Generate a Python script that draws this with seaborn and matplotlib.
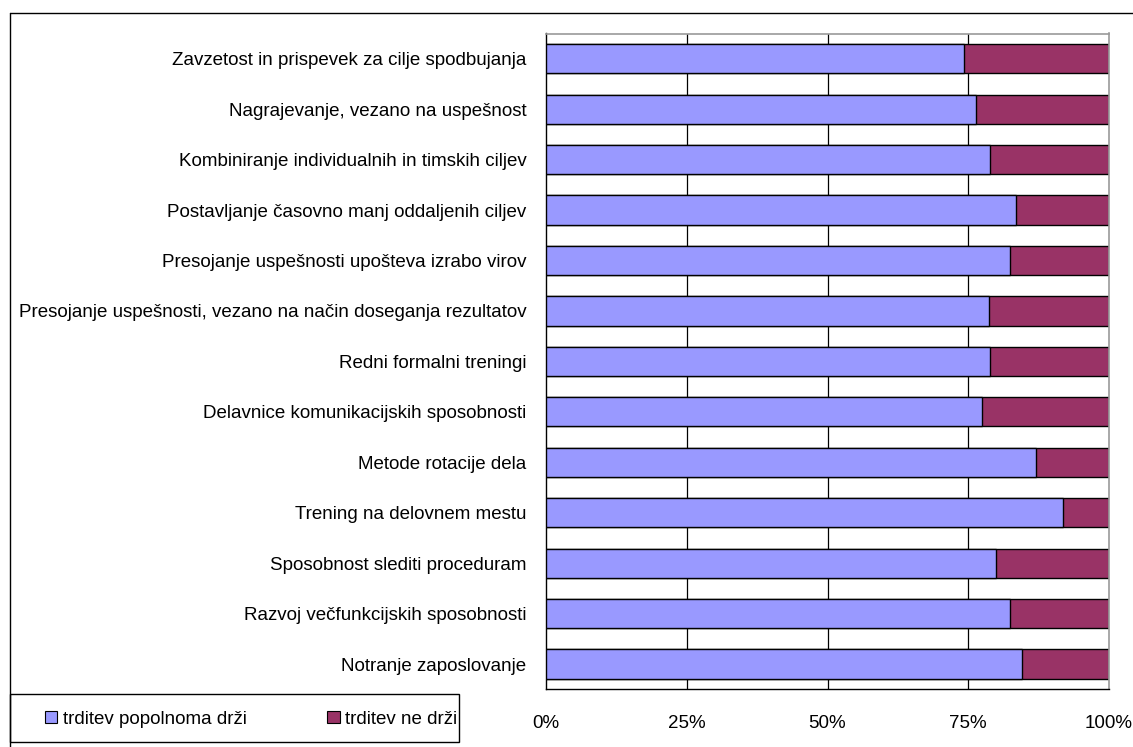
import matplotlib
matplotlib.use("Agg")
import matplotlib.pyplot as plt
from matplotlib.patches import Patch, Rectangle
from matplotlib.lines import Line2D
import seaborn as sns
import pandas as pd

categories = [
    "Zavzetost in prispevek za cilje spodbujanja",
    "Nagrajevanje, vezano na uspešnost",
    "Kombiniranje individualnih in timskih ciljev",
    "Postavljanje časovno manj oddaljenih ciljev",
    "Presojanje uspešnosti upošteva izrabo virov",
    "Presojanje uspešnosti, vezano na način doseganja rezultatov",
    "Redni formalni treningi",
    "Delavnice komunikacijskih sposobnosti",
    "Metode rotacije dela",
    "Trening na delovnem mestu",
    "Sposobnost slediti proceduram",
    "Razvoj večfunkcijskih sposobnosti",
    "Notranje zaposlovanje",
]
holds = [74.2, 76.4, 78.9, 83.5, 82.4, 78.6, 78.9, 77.5, 87.1, 91.8, 79.9, 82.5, 84.6]
not_holds = [100 - v for v in holds]
series_names = ["trditev popolnoma drži", "trditev ne drži"]
xticks = [0, 25, 50, 75, 100]
xticklabels = ["0%", "25%", "50%", "75%", "100%"]

blue = "#9999FF"
maroon = "#993366"

df = pd.DataFrame({"cat": categories, "holds": holds, "not_holds": not_holds})
df["total"] = df["holds"] + df["not_holds"]

sns.set_style("white")
plt.rcParams["font.family"] = ["Liberation Sans", "DejaVu Sans"]
plt.rcParams["text.color"] = "black"
plt.rcParams["xtick.color"] = "black"
plt.rcParams["ytick.color"] = "black"

fs = 13.5

fig = plt.figure(figsize=(11.33, 7.47), dpi=100)
W, H = 1133, 747
ax = fig.add_axes([546 / W, (H - 689.3) / H, (1109 - 546) / W, (689.3 - 33.5) / H])

for x in [25, 50, 75]:
    ax.axvline(x, color="black", lw=0.9, zorder=0)

sns.barplot(data=df, y="cat", x="total", color=maroon, orient="h", width=0.58,
            edgecolor="black", linewidth=1.0, saturation=1, ax=ax, zorder=2)
sns.barplot(data=df, y="cat", x="holds", color=blue, orient="h", width=0.58,
            edgecolor="black", linewidth=1.0, saturation=1, ax=ax, zorder=3)

n = len(categories)
ax.set_xlim(0, 100)
ax.set_ylim(n - 0.5, -0.5)
ax.set_xlabel("")
ax.set_ylabel("")
ax.set_xticks(xticks)
ax.set_xticklabels(xticklabels, fontsize=fs)
ax.tick_params(axis="x", direction="inout", length=9, width=0.9, color="black", pad=14)
ax.set_yticks([i - 0.5 for i in range(n + 1)])
ax.set_yticklabels([])
ax.set_yticks(range(n), minor=True)
ax.set_yticklabels(categories, minor=True, fontsize=fs)
ax.tick_params(axis="y", which="major", direction="out", length=6, width=0.9, color="black")
ax.tick_params(axis="y", which="minor", length=0, pad=14)

for s in ["left", "bottom"]:
    ax.spines[s].set_color("black")
    ax.spines[s].set_linewidth(1.0)
for s in ["top", "right"]:
    ax.spines[s].set_color("#999999")
    ax.spines[s].set_linewidth(1.2)

# outer chart frame
fig.add_artist(Line2D([10 / W, 1.0], [(H - 13) / H] * 2, color="black", lw=1.0))
fig.add_artist(Line2D([10 / W] * 2, [0, (H - 13) / H], color="black", lw=1.0))

# legend box
fig.add_artist(Rectangle((10 / W, (H - 742) / H), (459 - 10) / W, (742 - 694) / H,
                         transform=fig.transFigure, facecolor="white",
                         edgecolor="black", lw=1.0))
handles = [Patch(facecolor=blue, edgecolor="black", lw=0.8),
           Patch(facecolor=maroon, edgecolor="black", lw=0.8)]
leg = fig.legend(handles, series_names, loc="center left", ncol=2,
                 bbox_to_anchor=(45 / W, (H - 719) / H),
                 frameon=False, fontsize=fs,
                 handlelength=0.65, handleheight=0.65, handletextpad=0.3,
                 columnspacing=4.3, borderaxespad=0, borderpad=0)

fig.savefig("out.png", dpi=100)
